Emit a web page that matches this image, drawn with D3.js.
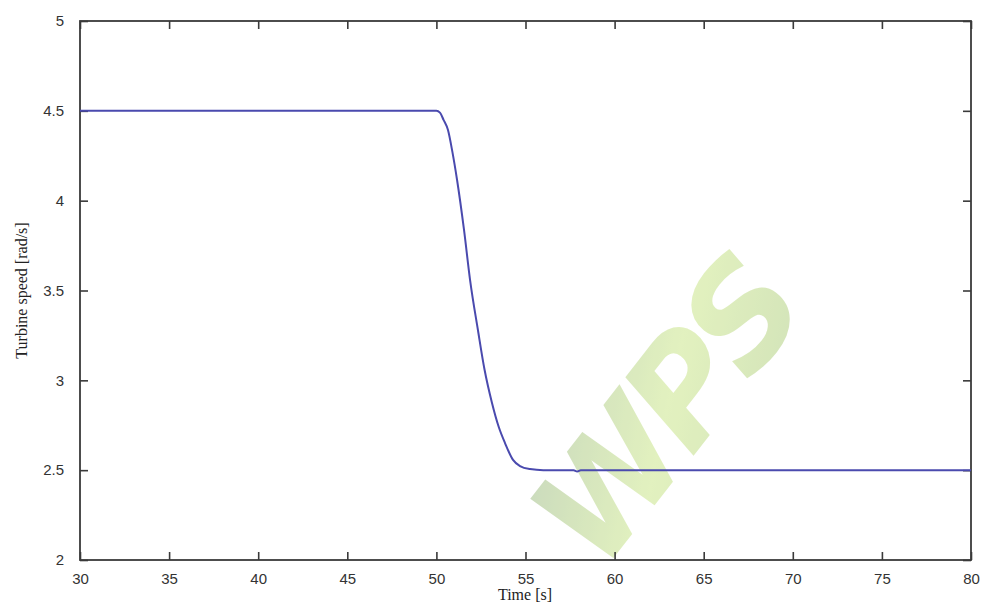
<!DOCTYPE html>
<html>
<head>
<meta charset="utf-8">
<script src="https://cdn.jsdelivr.net/npm/d3@7"></script>
<style>
  html, body { margin: 0; padding: 0; background: #fff; }
  svg { display: block; }
</style>
</head>
<body>
<svg id="chart" width="981" height="606"></svg>
<script>
// Turbine speed response after the set-point step near t = 50 s
const timeS = [30, 50, 50.2, 50.4, 50.65, 50.9, 51.16, 51.55, 51.89, 52.33, 52.7, 53.12, 53.5, 53.85, 54.3, 54.69, 55.25, 56, 57.7, 57.9, 58.1, 80];
const speed = [4.5, 4.5, 4.49, 4.45, 4.393, 4.27, 4.115, 3.837, 3.558, 3.28, 3.06, 2.874, 2.74, 2.651, 2.557, 2.523, 2.506, 2.5, 2.5, 2.493, 2.5, 2.5];

const xTicks = [30, 35, 40, 45, 50, 55, 60, 65, 70, 75, 80];
const yTicks = [2, 2.5, 3, 3.5, 4, 4.5, 5];

const svg = d3.select("#chart");
const plotL = 80, plotR = 971, plotT = 21, plotB = 560;

const x = d3.scaleLinear().domain([30, 80]).range([plotL, plotR]);
const y = d3.scaleLinear().domain([2, 5]).range([plotB, plotT]);

const axisColor = "#3a3a3a";
const tickFont = "'Liberation Sans', Arial, sans-serif";

// Watermark lettering behind the data
const defs = svg.append("defs");
const grad = defs.append("linearGradient").attr("id", "wm")
  .attr("x1", "0%").attr("y1", "0%").attr("x2", "100%").attr("y2", "100%");
grad.append("stop").attr("offset", "0%").attr("stop-color", "#b3c9a6");
grad.append("stop").attr("offset", "50%").attr("stop-color", "#d9edaa");
grad.append("stop").attr("offset", "100%").attr("stop-color", "#bfd6a0");

svg.append("text")
  .attr("transform", "translate(674,418) rotate(-52)")
  .attr("text-anchor", "middle")
  .attr("dominant-baseline", "middle")
  .style("font-family", "'DejaVu Sans', sans-serif")
  .style("font-weight", "bold")
  .style("font-style", "italic")
  .style("font-size", "140px")
  .style("letter-spacing", "-8px")
  .attr("fill", "url(#wm)")
  .attr("stroke", "#ffffff")
  .attr("stroke-width", 5)
  .attr("paint-order", "stroke")
  .attr("opacity", 0.75)
  .text("WPS");

// Axes: bottom/left with labels, top/right mirrored ticks only, all ticks inward
const tickLen = 8;
function styleAxis(g) {
  g.select(".domain").remove();
  g.selectAll(".tick line").attr("stroke", axisColor).attr("stroke-width", 1.6);
  g.selectAll(".tick text").attr("fill", "#333")
    .style("font-family", tickFont).style("font-size", "15px");
}

svg.append("g").attr("transform", `translate(0,${plotB})`)
  .call(d3.axisBottom(x).tickValues(xTicks).tickSize(-tickLen).tickPadding(13).tickFormat(d3.format("d")))
  .call(styleAxis);
svg.append("g").attr("transform", `translate(0,${plotT})`)
  .call(d3.axisTop(x).tickValues(xTicks).tickSize(-tickLen).tickFormat(""))
  .call(styleAxis);
svg.append("g").attr("transform", `translate(${plotL},0)`)
  .call(d3.axisLeft(y).tickValues(yTicks).tickSize(-tickLen).tickPadding(16).tickFormat(d => String(d)))
  .call(styleAxis);
svg.append("g").attr("transform", `translate(${plotR},0)`)
  .call(d3.axisRight(y).tickValues(yTicks).tickSize(-tickLen).tickFormat(""))
  .call(styleAxis);

// Plot frame
svg.append("rect")
  .attr("x", plotL).attr("y", plotT)
  .attr("width", plotR - plotL).attr("height", plotB - plotT)
  .attr("fill", "none").attr("stroke", axisColor).attr("stroke-width", 1.8);

// Speed trace
const line = d3.line().x((d, i) => x(timeS[i])).y(d => y(d)).curve(d3.curveMonotoneX);
svg.append("path")
  .attr("d", line(speed))
  .attr("fill", "none")
  .attr("stroke", "#4a4aae")
  .attr("stroke-width", 2);

// Axis titles
svg.append("text")
  .attr("x", 525).attr("y", 600)
  .attr("text-anchor", "middle")
  .style("font-family", "'Liberation Serif', 'Times New Roman', serif")
  .style("font-size", "16px").attr("fill", "#222")
  .text("Time [s]");

svg.append("text")
  .attr("transform", `translate(27,${(plotT + plotB) / 2}) rotate(-90)`)
  .attr("text-anchor", "middle")
  .style("font-family", "'Liberation Serif', 'Times New Roman', serif")
  .style("font-size", "16px").attr("fill", "#222")
  .text("Turbine speed [rad/s]");
</script>
</body>
</html>
